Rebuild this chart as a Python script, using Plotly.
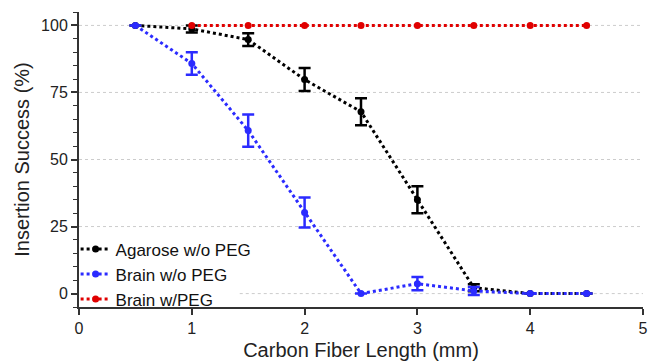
import plotly.graph_objects as go

x_agarose = [0.5, 1, 1.5, 2, 2.5, 3, 3.5, 4, 4.5]
y_agarose = [100, 98.7, 94.7, 79.8, 67.8, 35, 2.2, 0, 0]
e_agarose = [0, 1.3, 2.4, 4.3, 5.0, 5.0, 1.3, 0, 0]

x_brain = [0.5, 1, 1.5, 2, 2.5, 3, 3.5, 4, 4.5]
y_brain = [100, 85.8, 60.8, 30.2, 0, 3.7, 1, 0, 0]
e_brain = [0, 4.2, 6.0, 5.6, 0, 2.5, 1.5, 0, 0]

x_peg = [1, 1.5, 2, 2.5, 3, 3.5, 4, 4.5]
y_peg = [100, 100, 100, 100, 100, 100, 100, 100]

names = ["Agarose w/o PEG", "Brain w/o PEG", "Brain w/PEG"]
colors = ["#000000", "#2b2bff", "#e00000"]

x_ticks = [0, 1, 2, 3, 4, 5]
y_ticks = [0, 25, 50, 75, 100]

fig = go.Figure()
fig.add_trace(go.Scatter(
    x=x_agarose, y=y_agarose, name=names[0], mode="lines+markers",
    line=dict(color=colors[0], width=3, dash="dot"),
    marker=dict(color=colors[0], size=7),
    error_y=dict(type="data", array=e_agarose, color=colors[0], thickness=2.5, width=6),
))
fig.add_trace(go.Scatter(
    x=x_brain, y=y_brain, name=names[1], mode="lines+markers",
    line=dict(color=colors[1], width=3, dash="dot"),
    marker=dict(color=colors[1], size=7),
    error_y=dict(type="data", array=e_brain, color=colors[1], thickness=2.5, width=6),
))
fig.add_trace(go.Scatter(
    x=x_peg, y=y_peg, name=names[2], mode="lines+markers",
    line=dict(color=colors[2], width=3, dash="dot"),
    marker=dict(color=colors[2], size=7),
))

# horizontal dotted gridlines; the zero line is hidden behind the legend box
for yv in y_ticks:
    fig.add_shape(type="line", xref="paper", yref="y",
                  x0=0.285 if yv == 0 else 0.0, x1=1.0, y0=yv, y1=yv,
                  line=dict(color="#cccccc", width=1, dash="dot"), layer="below")

fig.update_layout(
    width=649, height=363,
    margin=dict(l=79, r=6, t=12, b=56, autoexpand=False),
    paper_bgcolor="white", plot_bgcolor="white",
    font=dict(family="Liberation Sans, Arial, sans-serif", size=16, color="#222"),
    legend=dict(x=-0.006, y=-0.035, xanchor="left", yanchor="bottom",
                bgcolor="rgba(0,0,0,0)", font=dict(size=17, color="#111"),
                tracegroupgap=0, itemwidth=30, borderwidth=0),
    showlegend=True,
)
fig.update_xaxes(
    range=[0, 5], tickvals=x_ticks, ticktext=[str(v) for v in x_ticks],
    showline=True, linecolor="#333", linewidth=2,
    ticks="outside", ticklen=6, tickwidth=2, tickcolor="#333",
    tickfont=dict(size=16),
    showgrid=False, zeroline=False, automargin=False,
    title=dict(text="Carbon Fiber Length (mm)", font=dict(size=20), standoff=7),
)
fig.update_yaxes(
    range=[-5, 105], tickvals=y_ticks, ticktext=[str(v) for v in y_ticks],
    showline=True, linecolor="#333", linewidth=2,
    ticks="outside", ticklen=6, tickwidth=2, tickcolor="#333",
    tickfont=dict(size=16),
    minor=dict(dtick=5, tick0=0, ticks="outside", ticklen=4, tickwidth=1, tickcolor="#333", showgrid=False),
    showgrid=False, zeroline=False, automargin=False,
    title=dict(text="Insertion Success (%)", font=dict(size=20), standoff=6),
)

fig.write_html("out.html", config={"displayModeBar": False},
               post_script="document.body.style.margin='0px';")
